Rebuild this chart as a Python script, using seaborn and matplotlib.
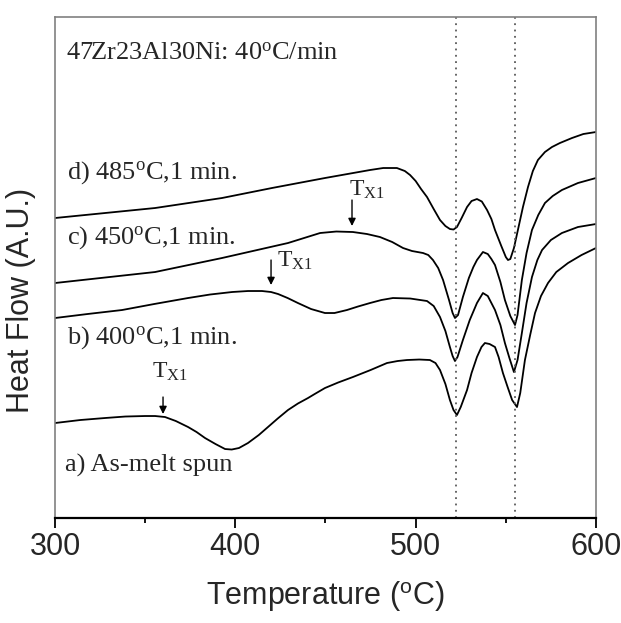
import numpy as np
import pandas as pd
import matplotlib
matplotlib.use('Agg')
import matplotlib.pyplot as plt
import seaborn as sns

# DSC traces: temperature (C) and heat flow (arbitrary units)
temp_d = [300, 355.5, 392.6, 420.3, 449.7, 474.7, 482, 489.6, 494, 496.9, 500, 503, 506.3,
          510, 513.5, 516.5, 519.0, 521, 522.9, 525.5, 528.5, 531, 534.0, 536.7, 539.6,
          542, 544.0, 547.5, 550, 551.2, 552.5, 554.5, 556.7, 559.5, 562.3, 565, 567.8,
          571.7, 575.6, 580, 586.7, 593, 600]
flow_d = [300, 310, 320, 330, 340, 348, 350, 350, 347, 343, 337, 329, 321,
          309, 298, 292, 289, 288.5, 291, 300, 311, 317, 319, 316.5, 308,
          299, 288, 272, 261, 258, 259, 270, 288, 311, 331, 347, 358,
          366, 371, 375, 380, 384, 386]

temp_c = [300, 355.5, 392.6, 429.2, 447.0, 456, 465.2, 473, 480.2, 487, 493.0, 498, 504.1,
          507, 509.6, 512.5, 515.2, 518.5, 520.5, 521.8, 523.5, 526.2, 529.5, 532, 534.0,
          537.3, 540, 542, 544.0, 547, 549.5, 552.5, 555.1, 556.5, 558.9, 561.5, 564.5,
          568, 571.7, 576, 581.1, 590, 600]
flow_c = [235, 246, 260, 275, 285, 286.5, 286, 284, 281, 276, 270, 267, 265,
          263, 258, 250, 238, 218, 205, 200, 203, 221, 240, 251, 258,
          266, 264, 259, 253, 236, 218, 202, 193, 203, 238, 265, 288,
          303, 315, 322, 328, 335, 340]

temp_b = [300, 318, 337.2, 355, 373.8, 386, 398.2, 407, 414.8, 419.8, 423.7, 429, 434.7,
          442, 449.7, 455, 461.9, 468, 474.7, 481, 487.4, 497, 506.3, 510, 513.5, 516.5,
          519.0, 520.5, 521.8, 523.2, 526.2, 530, 534.0, 537.3, 540, 542, 544.0, 547,
          549.5, 552, 554.5, 556.5, 558.9, 561.5, 564.5, 567.5, 570.1, 575, 581.1, 590, 600]
flow_b = [200, 204, 208, 214, 220, 223.5, 226, 227, 227, 226, 224, 220, 215,
          209, 205, 205, 208, 211.5, 215, 218, 220, 219.5, 217, 212, 201, 187,
          171, 162, 157, 161, 178, 198, 215, 225, 222, 215, 208, 193,
          175, 160, 146, 158, 185, 215, 241, 258, 268, 278, 285, 291, 294]

temp_a = [300, 314, 327.7, 339, 349.9, 355.5, 361.0, 367, 373.8, 378.5, 383.2, 389, 394.3,
          398, 402, 407.0, 413, 418.1, 423.5, 429.2, 434.7, 440.3, 444, 449.7, 457, 465.2,
          475, 484.1, 490, 495.2, 502, 507.9, 511, 513.5, 516.5, 519.0, 521, 522.9, 525,
          528.5, 531, 534.0, 536.5, 538.4, 541, 544.0, 546, 548.4, 551, 553.5, 556.2, 558,
          560.6, 563.5, 566.2, 569.5, 573.4, 578, 584.5, 592, 600]
flow_a = [95, 98, 100, 101.5, 102, 102, 101, 97, 91, 86, 80, 74, 69,
          68.5, 70, 75, 83, 91, 99.5, 108, 114.5, 120, 124, 130, 135.5, 141,
          148, 155, 157, 158, 158.5, 158, 155, 148, 134, 118, 108, 103, 111,
          128, 145, 161, 171, 175, 174, 171, 161, 145, 131, 118, 111, 125,
          158, 183, 205, 222, 235, 246, 255, 263, 270]

peak_lines = [522.5, 555.2]

labels = [r'a) As-melt spun', r'b) 400$^{\mathrm{o}}$C,1 min.',
          r'c) 450$^{\mathrm{o}}$C,1 min.', r'd) 485$^{\mathrm{o}}$C,1 min.']
label_pos = [(305.5, 53), (306.6, 180), (306.6, 280), (306.6, 345)]

# Tx1 onset markers: (arrow x, arrow top, arrow tip, label x, label y)
tx1_marks = [(359.9, 121, 104, 354.0, 146),
             (419.8, 258, 233, 423.3, 257),
             (464.7, 318, 292, 463.0, 328)]

sns.set_theme(style='ticks')
plt.rcParams['font.family'] = ['Liberation Sans', 'DejaVu Sans']
plt.rcParams['mathtext.fontset'] = 'custom'
plt.rcParams['mathtext.rm'] = 'Liberation Serif'
plt.rcParams['mathtext.sf'] = 'Liberation Sans'
plt.rcParams['mathtext.it'] = 'Liberation Serif:italic'

fig = plt.figure(figsize=(6.21, 6.23), dpi=100)
ax = fig.add_axes([0.0886, 0.1685, 0.8711, 0.8042])

for t, f in [(temp_a, flow_a), (temp_b, flow_b), (temp_c, flow_c), (temp_d, flow_d)]:
    df = pd.DataFrame({'T': t, 'HF': f})
    sns.lineplot(data=df, x='T', y='HF', color='black', lw=1.3, ax=ax, sort=False)

for x in peak_lines:
    ax.axvline(x, color='0.35', ls=(0, (1, 2.5)), lw=1.3)

serif = 'Liberation Serif'
for lab, (x, y) in zip(labels, label_pos):
    ax.text(x, y, lab, family=serif, fontsize=19, va='center', ha='left')

ax.text(306.0, 464, r'47Zr23Al30Ni: 40$^{\mathrm{o}}$C/min', family=serif, fontsize=19,
        va='center', ha='left')

for ax_x, y0, y1, lx, ly in tx1_marks:
    ax.annotate('', xy=(ax_x, y1), xytext=(ax_x, y0),
                arrowprops=dict(arrowstyle='-|>', color='black', lw=1.0,
                                mutation_scale=11, shrinkA=0, shrinkB=0))
    ax.text(lx, ly, r'T$_{\mathrm{X1}}$', family=serif, fontsize=17, va='center', ha='left')

ax.set_xlim(300, 600)
ax.set_ylim(0, 501)
ax.set_xticks([300, 400, 500, 600])
ax.set_xticks([350, 450, 550], minor=True)
ax.set_yticks([])
ax.tick_params(axis='x', which='major', direction='out', length=7, width=1.3,
               labelsize=22, pad=3, color='black')
ax.tick_params(axis='x', which='minor', direction='out', length=3.5, width=1.3, color='black')

for side in ['top', 'left', 'right']:
    ax.spines[side].set_color('0.5')
    ax.spines[side].set_linewidth(1.2)
ax.spines['bottom'].set_color('black')
ax.spines['bottom'].set_linewidth(1.6)

ax.set_xlabel(r'Temperature ($^{\mathsf{o}}$C)', fontsize=22, labelpad=12)
ax.set_ylabel('Heat Flow (A.U.)', fontsize=22)
ax.yaxis.set_label_coords(-0.035, 0.435)

fig.savefig('out.png', dpi=100)
